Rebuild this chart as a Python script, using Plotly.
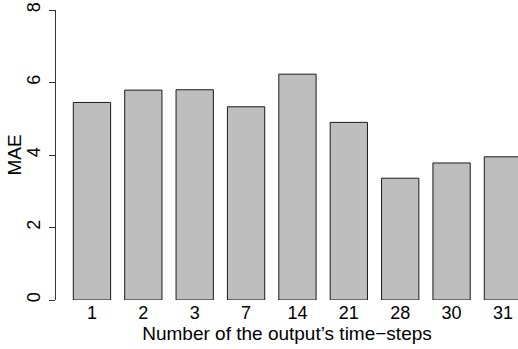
import plotly.graph_objects as go

categories = ["1", "2", "3", "7", "14", "21", "28", "30", "31"]
mae = [5.45, 5.79, 5.80, 5.33, 6.23, 4.90, 3.36, 3.78, 3.95]
y_ticks = [0, 2, 4, 6, 8]

FONT = "Liberation Sans, Arial, Helvetica, sans-serif"

fig = go.Figure(
    go.Bar(
        x=categories,
        y=mae,
        marker=dict(color="#bebebe", line=dict(color="#1a1a1a", width=1)),
    )
)

fig.update_layout(
    width=518,
    height=349,
    margin=dict(l=56, r=0, t=10, b=49),
    paper_bgcolor="white",
    plot_bgcolor="white",
    bargap=0.274,
    showlegend=False,
    font=dict(family=FONT, size=19, color="black"),
    annotations=[
        dict(
            text="MAE",
            xref="paper", yref="paper",
            x=0, y=0.5,
            xanchor="center", yanchor="middle",
            xshift=-42.5,
            textangle=-90,
            showarrow=False,
            font=dict(size=19),
        )
    ],
)

fig.update_xaxes(
    type="category",
    range=[-0.70, 8.293],
    showline=False,
    showgrid=False,
    zeroline=False,
    ticks="",
    tickfont=dict(size=18),
    title=dict(text="Number of the output’s time−steps", font=dict(size=19), standoff=0),
)

fig.update_yaxes(
    range=[0, 8],
    tickvals=y_ticks,
    ticktext=[str(v) for v in y_ticks],
    showline=True,
    linecolor="#333333",
    linewidth=1,
    ticks="outside",
    ticklen=6,
    tickcolor="#333333",
    tickangle=-90,
    ticklabelstandoff=2,
    showgrid=False,
    zeroline=False,
    tickfont=dict(size=18),
)

fig.write_html("out.html")
